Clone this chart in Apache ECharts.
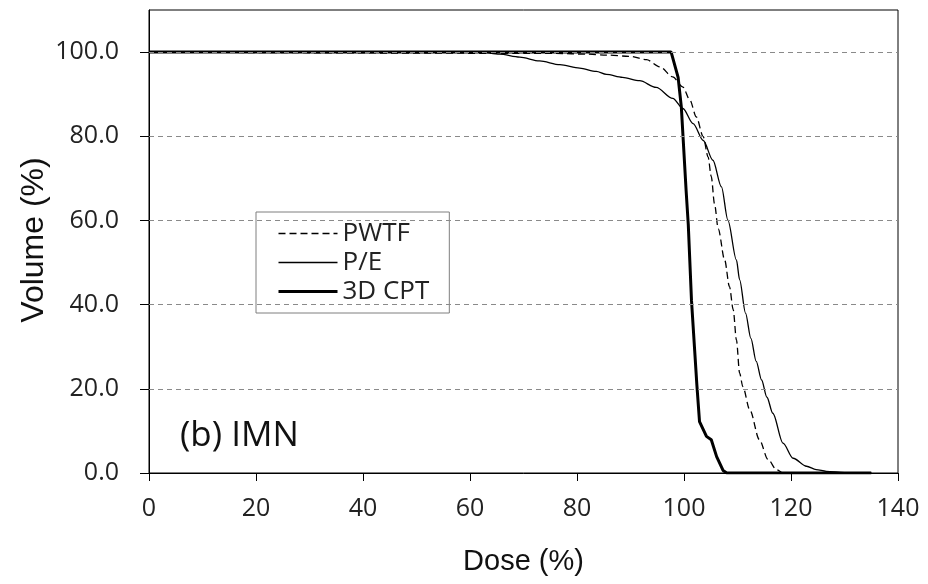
<!DOCTYPE html>
<html>
<head>
<meta charset="utf-8">
<script src="https://cdn.jsdelivr.net/npm/echarts@6/dist/echarts.min.js"></script>
<style>
  html, body { margin: 0; padding: 0; background: #fff; }
  #main { width: 928px; height: 584px; }
</style>
</head>
<body>
<div id="main"></div>
<script>
// tick values
var xTicks = [0, 20, 40, 60, 80, 100, 120, 140];
var yTicks = [0, 20, 40, 60, 80, 100];
var gridValues = [20, 40, 60, 80, 100];

// PWTF (dashed)
var pwtfDose = [0, 76, 82, 85.5, 89.8, 93, 95.5, 97.9, 99.8, 101.1, 102.3, 103.6, 104.5, 105.1, 105.7, 106.4, 107.6, 108.5, 109.2, 109.8, 110.4, 111.0, 112.3, 114.1, 115.7, 117.3, 118.5, 135];
var pwtfVol  = [100, 99.7, 99.5, 99.3, 99.0, 98.2, 96.5, 94.1, 91.7, 88.6, 84.6, 79.9, 75.1, 70.4, 64, 58, 50.6, 44.3, 38.8, 31.6, 23.7, 20.5, 15, 7.9, 3.2, 0.8, 0, 0];

// P/E (thin solid)
var peDose = [0, 62, 65.5, 69.3, 73, 76.8, 80.5, 83.6, 85.5, 88.5, 91.7, 94.8, 97.9, 99.8, 101.7, 103.6, 105.4, 107, 108.2, 109.8, 110.4, 111.5, 112.5, 113.5, 114.5, 115.5, 116.6, 118.5, 120.4, 122.9, 124.7, 126.6, 130, 135];
var peVol  = [100, 100, 99.5, 98.8, 97.9, 97.0, 96.2, 95.4, 94.7, 94.0, 93.2, 91.6, 89, 86.6, 83, 79, 74.3, 68, 60.1, 50.6, 45.9, 38, 32, 26.5, 22.1, 18, 14.2, 7.1, 3.5, 1.6, 0.8, 0.4, 0.1, 0];

// 3D CPT (thick solid)
var cptDose = [0, 97.6, 98.9, 99.5, 100.4, 100.8, 101.4, 102.0, 102.4, 102.9, 104.2, 105.1, 106.1, 107.3, 108, 135];
var cptVol  = [100, 100, 94, 87, 67, 59, 41, 29, 21, 12.2, 8.7, 7.9, 3.9, 0.6, 0, 0];

function pairs(xs, ys) {
    var out = [];
    for (var i = 0; i < xs.length; i++) {
        out.push([xs[i], ys[i]]);
    }
    return out;
}

var tickFont = { fontFamily: 'Open Sans', fontSize: 25, color: '#222' };

var myChart = echarts.init(document.getElementById('main'));
var option = {
    backgroundColor: '#fff',
    animation: false,
    grid: {
        left: 149, right: 30, top: 10, bottom: 111,
        show: true, borderColor: '#000', borderWidth: 1
    },
    legend: {
        orient: 'vertical',
        left: 256, top: 212,
        data: [
            { name: 'PWTF', lineStyle: { width: 1.3 } },
            { name: 'P/E', lineStyle: { width: 1.3 } },
            { name: '3D CPT', lineStyle: { width: 3 } }
        ],
        itemWidth: 59, itemHeight: 14, itemGap: 0,
        padding: [7, 20, 7, 21],
        backgroundColor: '#fff',
        borderColor: '#7f7f7f', borderWidth: 1, borderRadius: 0,
        itemStyle: { opacity: 0 },
        textStyle: { fontFamily: 'Open Sans', fontSize: 26, color: '#222', lineHeight: 29 }
    },
    graphic: [
        {
            type: 'text', left: 180, top: 419,
            style: { text: '(b) IMN', font: '35px "Open Sans"', fill: '#111' }
        },
        {
            type: 'text', x: 34, y: 240, rotation: Math.PI / 2,
            style: {
                text: 'Volume (%)', font: '32px "Liberation Sans"', fill: '#111',
                align: 'center', verticalAlign: 'middle'
            }
        }
    ],
    xAxis: {
        type: 'value', min: 0, max: 140, interval: 20,
        name: 'Dose (%)', nameLocation: 'middle', nameGap: 74,
        nameTextStyle: { fontFamily: 'Liberation Sans', fontSize: 29, color: '#111' },
        axisLine: { show: true, lineStyle: { color: '#000', width: 1 } },
        axisTick: { show: true, inside: false, length: 8, lineStyle: { color: '#000' }, customValues: xTicks },
        axisLabel: Object.assign({ margin: 23, customValues: xTicks }, tickFont),
        splitLine: { show: false }
    },
    yAxis: {
        type: 'value', min: 0, max: 110, interval: 20,
        axisLine: { show: true, lineStyle: { color: '#000', width: 1 } },
        axisTick: { show: true, inside: false, length: 9, lineStyle: { color: '#000' }, customValues: yTicks },
        axisLabel: Object.assign({
            margin: 30, customValues: yTicks,
            formatter: function (v) { return v.toFixed(1); }
        }, tickFont),
        splitLine: { show: false }
    },
    series: [
        {
            name: 'PWTF', type: 'line', symbol: 'none', smooth: 0.3, smoothMonotone: 'x',
            data: pairs(pwtfDose, pwtfVol),
            lineStyle: { color: '#000', width: 1.3, type: [7, 4] },
            itemStyle: { color: '#000' },
            z: 3,
            markLine: {
                silent: true, symbol: 'none', animation: false,
                label: { show: false },
                lineStyle: { color: '#8a8a8a', width: 1, type: [5, 4] },
                data: gridValues.map(function (v) { return { yAxis: v }; })
            }
        },
        {
            name: 'P/E', type: 'line', symbol: 'none', smooth: 0.3, smoothMonotone: 'x',
            data: pairs(peDose, peVol),
            lineStyle: { color: '#000', width: 1.3 },
            itemStyle: { color: '#000' },
            z: 3
        },
        {
            name: '3D CPT', type: 'line', symbol: 'none',
            data: pairs(cptDose, cptVol),
            lineStyle: { color: '#000', width: 3 },
            itemStyle: { color: '#000' },
            z: 4
        }
    ]
};
myChart.setOption(option);
</script>
</body>
</html>
